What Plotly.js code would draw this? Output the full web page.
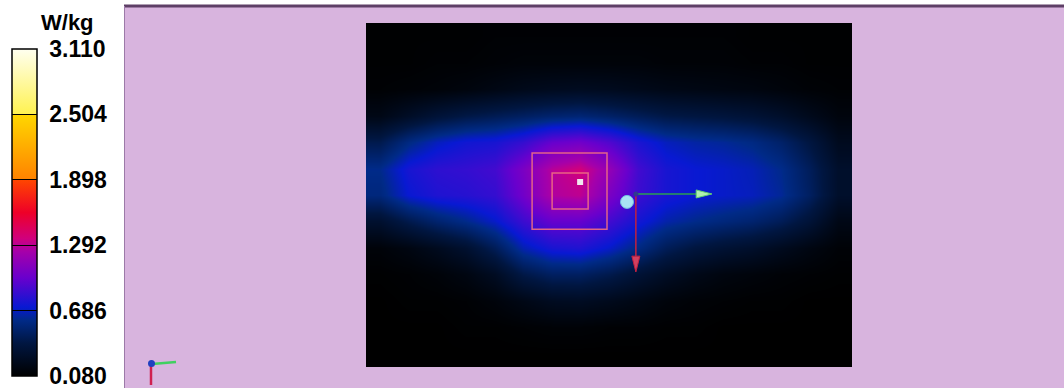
<!DOCTYPE html>
<html>
<head>
<meta charset="utf-8">
<script src="https://cdn.plot.ly/plotly-3.0.1.min.js"></script>
<style>
html,body{margin:0;padding:0;background:#fff;}
#chart{width:1064px;height:388px;}
</style>
</head>
<body>
<div id="chart"></div>
<script>
// ---- data (SAR in W/kg on the scan grid) ----
const gridX = [0,1,2,3,4,5,6,7,8,9,10,11,12,13,14,15,16];
const gridY = [0,1,2,3,4,5,6,7,8,9,10,11,12];
const sarRow0  = [0.09,0.09,0.09,0.09,0.10,0.10,0.10,0.10,0.10,0.10,0.10,0.10,0.10,0.09,0.09,0.09,0.09];
const sarRow1  = [0.09,0.09,0.10,0.10,0.11,0.12,0.12,0.12,0.12,0.12,0.11,0.11,0.11,0.10,0.10,0.09,0.09];
const sarRow2  = [0.10,0.11,0.12,0.14,0.17,0.20,0.22,0.23,0.22,0.20,0.18,0.17,0.16,0.15,0.13,0.11,0.10];
const sarRow3  = [0.18,0.26,0.34,0.40,0.44,0.48,0.52,0.54,0.50,0.45,0.40,0.38,0.36,0.33,0.28,0.21,0.14];
const sarRow4  = [0.42,0.58,0.68,0.74,0.76,0.84,0.98,1.02,0.92,0.77,0.68,0.64,0.62,0.58,0.50,0.38,0.22];
const sarRow5  = [0.60,0.76,0.82,0.84,0.88,1.06,1.28,1.36,1.16,0.88,0.76,0.72,0.70,0.67,0.60,0.46,0.28];
const sarRow6  = [0.56,0.72,0.78,0.80,0.84,1.02,1.26,1.30,1.06,0.86,0.76,0.72,0.70,0.68,0.62,0.48,0.28];
const sarRow7  = [0.30,0.42,0.52,0.60,0.70,0.86,0.98,0.98,0.88,0.75,0.65,0.60,0.56,0.52,0.45,0.34,0.18];
const sarRow8  = [0.12,0.16,0.22,0.30,0.45,0.66,0.76,0.78,0.70,0.58,0.45,0.37,0.32,0.28,0.22,0.16,0.11];
const sarRow9  = [0.09,0.10,0.12,0.16,0.24,0.40,0.48,0.48,0.42,0.33,0.25,0.19,0.15,0.13,0.11,0.10,0.09];
const sarRow10 = [0.08,0.09,0.09,0.10,0.13,0.18,0.23,0.24,0.21,0.17,0.13,0.11,0.10,0.09,0.09,0.08,0.08];
const sarRow11 = [0.08,0.08,0.08,0.09,0.09,0.10,0.11,0.11,0.10,0.10,0.09,0.09,0.08,0.08,0.08,0.08,0.08];
const sarRow12 = [0.08,0.08,0.08,0.08,0.08,0.08,0.08,0.08,0.08,0.08,0.08,0.08,0.08,0.08,0.08,0.08,0.08];
const scaleTicks = [0.080,0.686,1.292,1.898,2.504,3.110];
const scaleLabels = ['0.080','0.686','1.292','1.898','2.504','3.110'];
const unitLabel = 'W/kg';
// markers on the scan (grid units)
const cubeOuter = [5.31,7.93,4.41,7.29];   // x0,x1,y0,y1
const cubeInner = [6.01,7.27,5.17,6.53];
const peakPoint = [6.99,5.51];
const probePoint = [8.63,6.26];
const frameOrigin = [8.94,5.96];
const frameXTip = [11.60,5.96];
const frameYTip = [8.94,8.91];

const z = [sarRow0,sarRow1,sarRow2,sarRow3,sarRow4,sarRow5,sarRow6,sarRow7,sarRow8,sarRow9,sarRow10,sarRow11,sarRow12];

const W = 1064, H = 388;
const px = v => v / W;
const py = v => (H - v) / H;

const cmin = scaleTicks[0] - 0.0005, cmax = scaleTicks[scaleTicks.length-1] + 0.0005;
const colorscale = [
  [0.0,'rgb(0,0,0)'],
  [0.1,'rgb(0,22,65)'],
  [0.17,'rgb(0,42,135)'],
  [0.21,'rgb(8,25,210)'],
  [0.3,'rgb(105,0,205)'],
  [0.38,'rgb(165,0,170)'],
  [0.42,'rgb(208,0,125)'],
  [0.5,'rgb(238,0,40)'],
  [0.6,'rgb(255,70,0)'],
  [0.6001,'rgb(255,130,0)'],
  [0.8,'rgb(255,215,0)'],
  [0.8001,'rgb(255,242,80)'],
  [1.0,'rgb(255,255,240)']
];

const trace = {
  type:'heatmap', x:gridX, y:gridY, z:z,
  zmin:cmin, zmax:cmax, zsmooth:'best',
  colorscale:colorscale, hoverinfo:'skip',
  colorbar:{
    x:px(12), xanchor:'left', xpad:0, ypad:0,
    y:py(212.5), yanchor:'middle',
    thickness:25, len:327, lenmode:'pixels',
    outlinecolor:'#000', outlinewidth:1.5,
    tickvals:scaleTicks, ticktext:scaleLabels.map(s => '\u00a0' + s),
    ticks:'inside', ticklen:25, tickcolor:'#000', tickwidth:1,
    ticklabeloverflow:'allow',
    tickfont:{family:'Liberation Sans, Arial, sans-serif', size:23, color:'#000', weight:'bold'},
    title:{text:''}
  }
};

const xr = [-0.5,16.5], yr = [12.5,-0.5];
const xs = (28.588), ys = (26.46);

const shapes = [
  // lavender panel
  {type:'rect', xref:'paper', yref:'paper', x0:px(124), x1:1, y0:0, y1:py(5), fillcolor:'#d8b4de', line:{width:0}, layer:'below'},
  {type:'line', xref:'paper', yref:'paper', x0:px(124), x1:1, y0:py(6), y1:py(6), line:{color:'#5e3f66', width:3}, layer:'below'},
  {type:'line', xref:'paper', yref:'paper', x0:px(124.5), x1:px(124.5), y0:0, y1:py(6), line:{color:'#9c7aa8', width:1}, layer:'below'},
  // black scan background
  {type:'rect', xref:'x', yref:'y', x0:xr[0], x1:xr[1], y0:yr[0], y1:yr[1], fillcolor:'#000', line:{width:0}, layer:'below'},
  // zoom-scan cubes
  {type:'rect', xref:'x', yref:'y', x0:cubeOuter[0], x1:cubeOuter[1], y0:cubeOuter[2], y1:cubeOuter[3], line:{color:'rgba(240,110,130,0.9)', width:1.5}},
  {type:'rect', xref:'x', yref:'y', x0:cubeInner[0], x1:cubeInner[1], y0:cubeInner[2], y1:cubeInner[3], line:{color:'rgba(240,110,130,0.9)', width:1.5}},
  // peak marker
  {type:'rect', xref:'x', yref:'y', x0:peakPoint[0]-3/xs, x1:peakPoint[0]+3/xs, y0:peakPoint[1]-3/ys, y1:peakPoint[1]+3/ys, fillcolor:'#f0e8f0', line:{width:0}},
  // probe circle
  {type:'circle', xref:'x', yref:'y', x0:probePoint[0]-6.5/xs, x1:probePoint[0]+6.5/xs, y0:probePoint[1]-6.5/ys, y1:probePoint[1]+6.5/ys, fillcolor:'#a8e4f4', line:{color:'#70c0e0', width:1}},
  // frame arrows
  {type:'line', xref:'x', yref:'y', x0:frameOrigin[0], x1:frameXTip[0]-0.4, y0:frameOrigin[1], y1:frameXTip[1], line:{color:'#2aa050', width:1.5}},
  {type:'path', xref:'x', yref:'y', path:`M ${frameXTip[0]-0.55} ${frameXTip[1]-4/ys} L ${frameXTip[0]} ${frameXTip[1]} L ${frameXTip[0]-0.55} ${frameXTip[1]+4/ys} Z`, fillcolor:'#b0f0b0', line:{color:'#60d070', width:1}},
  {type:'line', xref:'x', yref:'y', x0:frameOrigin[0], x1:frameYTip[0], y0:frameOrigin[1], y1:frameYTip[1]-0.5, line:{color:'#c02040', width:1.5}},
  {type:'path', xref:'x', yref:'y', path:`M ${frameYTip[0]-4/xs} ${frameYTip[1]-0.6} L ${frameYTip[0]} ${frameYTip[1]} L ${frameYTip[0]+4/xs} ${frameYTip[1]-0.6} Z`, fillcolor:'#d04060', line:{color:'#c02040', width:1}},
  {type:'circle', xref:'x', yref:'y', x0:frameOrigin[0]-2.5/xs, x1:frameOrigin[0]+2.5/xs, y0:frameOrigin[1]-2.5/ys, y1:frameOrigin[1]+2.5/ys, fillcolor:'#303a90', line:{width:0}},
  // small orientation triad (bottom-left)
  {type:'line', xref:'paper', yref:'paper', x0:px(152), x1:px(176), y0:py(364), y1:py(362), line:{color:'#40d060', width:2.5}},
  {type:'line', xref:'paper', yref:'paper', x0:px(151), x1:px(151), y0:py(364), y1:py(385), line:{color:'#d02050', width:2.5}},
  {type:'circle', xref:'paper', yref:'paper', x0:px(148), x1:px(155), y0:py(360), y1:py(367), fillcolor:'#2040c0', line:{width:0}}
];

const layout = {
  width:W, height:H,
  margin:{l:0,r:0,t:0,b:0},
  paper_bgcolor:'#ffffff', plot_bgcolor:'rgba(0,0,0,0)',
  showlegend:false,
  xaxis:{domain:[px(366), px(852)], range:xr, visible:false, fixedrange:true},
  yaxis:{domain:[py(367), py(23)], range:yr, visible:false, fixedrange:true},
  shapes:shapes,
  annotations:[
    {xref:'paper', yref:'paper', x:px(67), y:py(22), text:unitLabel, showarrow:false,
     xanchor:'center', yanchor:'middle',
     font:{family:'Liberation Sans, Arial, sans-serif', size:22, color:'#000', weight:'bold'}}
  ]
};

Plotly.newPlot('chart', [trace], layout, {displayModeBar:false, staticPlot:true});
</script>
</body>
</html>
